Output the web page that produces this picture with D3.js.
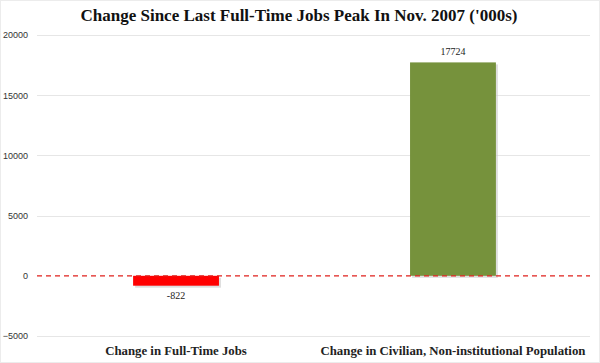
<!DOCTYPE html>
<html>
<head>
<meta charset="utf-8">
<script src="https://d3js.org/d3.v7.min.js"></script>
<style>
  body { margin: 0; background: white; }
  svg { display: block; }
</style>
</head>
<body>
<svg id="chart" width="600" height="363"></svg>
<script>
var categories = ["Change in Full-Time Jobs", "Change in Civilian, Non-institutional Population"];
var values = [-822, 17724];
var colors = ["#ff0000", "#76923c"];
var y_ticks = [-5000, 0, 5000, 10000, 15000, 20000];

var width = 600, height = 363;
var plot_left = 37, plot_right = 592;

var svg = d3.select("#chart");

// outer frame, faint like the original
svg.append("rect")
    .attr("x", 0.5).attr("y", 0.5)
    .attr("width", width - 1).attr("height", height - 1)
    .attr("fill", "none").attr("stroke", "#ececec");

var y = d3.scaleLinear().domain([-5000, 20000]).range([336, 35]);
var x = d3.scaleBand().domain(categories).range([plot_left, plot_right]).paddingInner(0.69).paddingOuter(0.347);

svg.append("text")
    .attr("x", 299).attr("y", 21)
    .attr("text-anchor", "middle")
    .style("font-family", "'Liberation Serif', 'Times New Roman', serif")
    .style("font-weight", "bold")
    .style("font-size", "17px")
    .attr("fill", "#111")
    .text("Change Since Last Full-Time Jobs Peak In Nov. 2007 ('000s)");

// gridlines (not at zero, that one is dashed red)
svg.append("g").selectAll("line")
    .data(y_ticks.filter(function(d) { return d != 0; }))
    .enter().append("line")
    .attr("x1", plot_left).attr("x2", plot_right - 2)
    .attr("y1", function(d) { return Math.round(y(d)) + 0.5; })
    .attr("y2", function(d) { return Math.round(y(d)) + 0.5; })
    .attr("stroke", "#e6e6e6");

var axis = d3.axisLeft(y).tickValues(y_ticks).tickFormat(d3.format("d")).tickSize(0).tickPadding(9);
var ax = svg.append("g").attr("transform", "translate(" + plot_left + ",0)").call(axis);
ax.select(".domain").remove();
ax.selectAll("text")
    .style("font-family", "'Liberation Sans', Arial, sans-serif")
    .style("font-size", "9px")
    .attr("fill", "#333");

// bar shadows
svg.append("g").selectAll("rect")
    .data(values)
    .enter().append("rect")
    .attr("x", function(d, i) { return x(categories[i]) + 2; })
    .attr("y", function(d) { return Math.min(y(d), y(0)) + 2; })
    .attr("width", x.bandwidth())
    .attr("height", function(d) { return Math.abs(y(d) - y(0)); })
    .attr("fill", "#c8c8c8")
    .attr("opacity", 0.6);

svg.append("g").selectAll("rect")
    .data(values)
    .enter().append("rect")
    .attr("x", function(d, i) { return x(categories[i]); })
    .attr("y", function(d) { return Math.min(y(d), y(0)); })
    .attr("width", x.bandwidth())
    .attr("height", function(d) { return Math.abs(y(d) - y(0)); })
    .attr("fill", function(d, i) { return colors[i]; });

// zero line
svg.append("line")
    .attr("x1", plot_left).attr("x2", plot_right - 2)
    .attr("y1", y(0)).attr("y2", y(0))
    .attr("stroke", "#e0201c")
    .attr("stroke-width", 1.2)
    .attr("stroke-dasharray", "5,4");

// value labels
svg.append("g").selectAll("text")
    .data(values)
    .enter().append("text")
    .attr("x", function(d, i) { return x(categories[i]) + x.bandwidth() / 2; })
    .attr("y", function(d) { return d < 0 ? y(d) + 13 : y(d) - 7; })
    .attr("text-anchor", "middle")
    .style("font-family", "'Liberation Serif', 'Times New Roman', serif")
    .style("font-size", "10px")
    .attr("fill", "#222")
    .text(function(d) { return d; });

// category labels
svg.append("g").selectAll("text")
    .data(categories)
    .enter().append("text")
    .attr("x", function(d) { return x(d) + x.bandwidth() / 2; })
    .attr("y", 355)
    .attr("text-anchor", "middle")
    .style("font-family", "'Liberation Serif', 'Times New Roman', serif")
    .style("font-weight", "bold")
    .style("font-size", "12.8px")
    .attr("fill", "#222")
    .text(function(d) { return d; });
</script>
</body>
</html>
